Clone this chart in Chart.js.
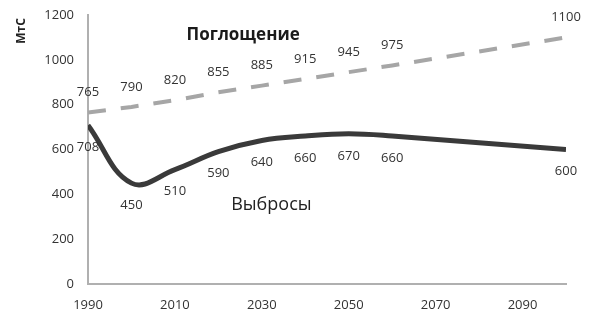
<!DOCTYPE html>
<html>
<head>
<meta charset="utf-8">
<script src="https://cdn.jsdelivr.net/npm/chart.js@4/dist/chart.umd.min.js"></script>
<style>
  html, body { margin: 0; padding: 0; background: #fff; }
  #wrap { width: 591px; height: 318px; position: relative; }
</style>
</head>
<body>
<div id="wrap"><canvas id="c" width="591" height="318"></canvas></div>
<script>
const absorbYears = [1990, 2000, 2010, 2020, 2030, 2040, 2050, 2060, 2100];
const absorbValues = [765, 790, 820, 855, 885, 915, 945, 975, 1100];
const emitYears = [1990, 2000, 2010, 2020, 2030, 2040, 2050, 2060, 2100];
const emitValues = [708, 450, 510, 590, 640, 660, 670, 660, 600];
const xTickLabels = [1990, 2010, 2030, 2050, 2070, 2090];
const yTickLabels = [0, 200, 400, 600, 800, 1000, 1200];
const absorbName = 'Поглощение';
const emitName = 'Выбросы';
const yAxisTitle = 'МтС';

const FONT = "'Open Sans', 'DejaVu Sans', sans-serif";

const labelsPlugin = {
  id: 'labels',
  afterDatasetsDraw(chart) {
    const ctx = chart.ctx;
    ctx.save();
    ctx.fillStyle = '#333';
    ctx.font = '13px ' + FONT;
    ctx.textAlign = 'center';
    ctx.textBaseline = 'middle';
    chart.data.datasets.forEach((ds, i) => {
      const meta = chart.getDatasetMeta(i);
      meta.data.forEach((pt, j) => {
        const dy = i === 0 ? -20 : 22;
        ctx.fillText(String(ds.data[j].y), pt.x, pt.y + dy);
      });
    });
    const xs = chart.scales.x, ys = chart.scales.y;
    ctx.font = 'bold 17px ' + FONT;
    ctx.fillStyle = '#1a1a1a';
    ctx.fillText(absorbName, xs.getPixelForValue(2025.7), ys.getPixelForValue(1112));
    ctx.font = '18px ' + FONT;
    ctx.fillStyle = '#222';
    ctx.fillText(emitName, xs.getPixelForValue(2032.2), ys.getPixelForValue(352));
    ctx.translate(22, 31);
    ctx.rotate(-Math.PI / 2);
    ctx.font = 'bold 12px ' + FONT;
    ctx.fillStyle = '#222';
    ctx.fillText(yAxisTitle, 0, 0);
    ctx.restore();
  }
};

new Chart(document.getElementById('c'), {
  type: 'line',
  data: {
    datasets: [
      {
        label: absorbName,
        data: absorbYears.map((x, i) => ({ x, y: absorbValues[i] })),
        borderColor: '#a6a6a6',
        borderWidth: 4,
        borderDash: [18, 15],
        borderCapStyle: 'butt',
        pointRadius: 0,
        tension: 0,
        fill: false
      },
      {
        label: emitName,
        data: emitYears.map((x, i) => ({ x, y: emitValues[i] })),
        borderColor: '#3a3a3a',
        borderWidth: 5,
        pointRadius: 0,
        tension: 0.4,
        fill: false
      }
    ]
  },
  options: {
    responsive: false,
    animation: false,
    events: [],
    layout: { padding: { left: 0, right: 25, top: 15, bottom: 0 } },
    plugins: { legend: { display: false }, tooltip: { enabled: false } },
    scales: {
      x: {
        type: 'linear',
        min: 1990,
        max: 2100,
        afterBuildTicks: (axis) => { axis.ticks = xTickLabels.map(v => ({ value: v })); },
        afterFit: (axis) => { axis.height = 34; axis.paddingLeft = 0; axis.paddingRight = 0; },
        grid: { display: false, drawTicks: false, tickLength: 0 },
        border: { display: true, color: '#b0b0b0', width: 2 },
        ticks: { color: '#333', font: { family: FONT, size: 13 }, padding: 13, maxRotation: 0, autoSkip: false, callback: (v) => String(v) }
      },
      y: {
        min: 0,
        max: 1200,
        afterBuildTicks: (axis) => { axis.ticks = yTickLabels.map(v => ({ value: v })); },
        afterFit: (axis) => { axis.width = 88; axis.paddingTop = 0; axis.paddingBottom = 0; },
        grid: { display: false, drawTicks: false, tickLength: 0 },
        border: { display: true, color: '#b0b0b0', width: 2 },
        ticks: { color: '#333', font: { family: FONT, size: 13 }, padding: 14, callback: (v) => String(v) }
      }
    }
  },
  plugins: [labelsPlugin]
});
</script>
</body>
</html>
